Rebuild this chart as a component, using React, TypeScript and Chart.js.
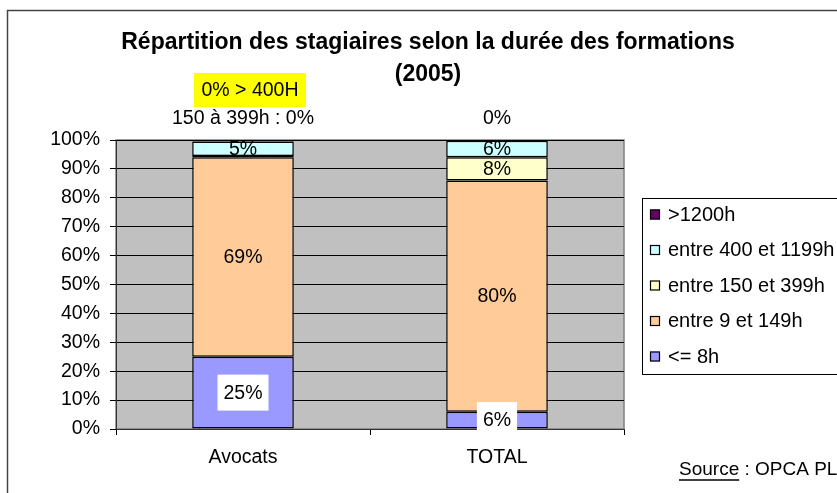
import React, { useEffect, useRef } from "react";
import { Chart, registerables } from "chart.js";

Chart.register(...registerables);

const categories = ["Avocats", "TOTAL"];
const seriesNames = ["<= 8h", "entre 9 et 149h", "entre 150 et 399h", "entre 400 et 1199h", ">1200h"];
const le8h = [25, 6];
const h9to149 = [69, 80];
const h150to399 = [0.5, 8];
const h400to1199 = [5, 5.7];
const gt1200 = [0.5, 0.3];
const seriesColors = ["#9999FF", "#FFCC99", "#FFFFCC", "#CCFFFF", "#660066"];
const whiteBgSeries = [0];
const titleLines = ["Répartition des stagiaires selon la durée des formations", "(2005)"];
const topNotes = ["150 à 399h : 0%", "0%"];
const highlightNote = "0% > 400H";
const sourceLabel = "Source";
const sourceRest = " : OPCA PL";

const FONT = "'Liberation Sans', Arial, sans-serif";

const decorPlugin = {
  id: "decor",
  beforeDraw(chart: any) {
    const ctx = chart.ctx;
    const { left, top, right, bottom } = chart.chartArea;
    ctx.save();
    ctx.fillStyle = "#ffffff";
    ctx.fillRect(0, 0, chart.width, chart.height);
    ctx.strokeStyle = "#444444";
    ctx.lineWidth = 1.5;
    ctx.strokeRect(7.5, 10.5, 900, 600);
    ctx.fillStyle = "#C0C0C0";
    ctx.fillRect(left, top, right - left, bottom - top);
    ctx.strokeStyle = "#808080";
    ctx.lineWidth = 1.5;
    ctx.strokeRect(left, top, right - left, bottom - top);
    ctx.restore();
  },
  afterDatasetsDraw(chart: any) {
    const ctx = chart.ctx;
    ctx.save();
    ctx.font = `19.5px ${FONT}`;
    ctx.textAlign = "center";
    ctx.textBaseline = "middle";
    chart.data.datasets.forEach((ds: any, di: number) => {
      const meta = chart.getDatasetMeta(di);
      meta.data.forEach((el: any, i: number) => {
        const v = ds.data[i];
        if (v < 1) return;
        const txt = Math.round(v) + "%";
        const cx = el.x;
        const cy = (el.y + el.base) / 2;
        if (whiteBgSeries.includes(di)) {
          const w = ctx.measureText(txt).width;
          ctx.fillStyle = "#ffffff";
          ctx.fillRect(cx - w / 2 - 6, cy - 18, w + 12, 36);
        }
        ctx.fillStyle = "#000000";
        ctx.fillText(txt, cx, cy + 1);
      });
    });
    ctx.restore();
  },
  afterDraw(chart: any) {
    const ctx = chart.ctx;
    const xs = chart.scales.x;
    ctx.save();
    // Title
    ctx.fillStyle = "#000";
    ctx.textAlign = "center";
    ctx.textBaseline = "middle";
    ctx.font = `bold 23px ${FONT}`;
    ctx.fillText(titleLines[0], 428, 43);
    ctx.fillText(titleLines[1], 428, 75);
    // Top notes
    ctx.font = `19.5px ${FONT}`;
    categories.forEach((_, i) => {
      ctx.fillText(topNotes[i], xs.getPixelForValue(i), 119);
    });
    // highlight note
    ctx.fillStyle = "#FFFF00";
    ctx.fillRect(194, 73, 112, 34);
    ctx.fillStyle = "#000";
    ctx.fillText(highlightNote, 250, 91);
    // Legend
    const lx = 642;
    const ly = 198;
    ctx.strokeStyle = "#000";
    ctx.lineWidth = 1;
    ctx.strokeRect(lx + 0.5, ly + 0.5, 300, 176);
    ctx.textAlign = "left";
    ctx.font = `20px ${FONT}`;
    for (let k = 0; k < seriesNames.length; k++) {
      const si = seriesNames.length - 1 - k;
      const yy = 214 + k * 35.5;
      ctx.fillStyle = seriesColors[si];
      ctx.fillRect(650, yy - 4.5, 10, 10);
      ctx.strokeStyle = "#000";
      ctx.lineWidth = 1.2;
      ctx.strokeRect(650.5, yy - 4, 9, 9);
      ctx.fillStyle = "#000";
      ctx.fillText(seriesNames[si], 668, yy + 1);
    }
    // Source
    ctx.font = `19px ${FONT}`;
    const sx = 679;
    const sy = 470;
    ctx.fillText(sourceLabel, sx, sy);
    const sw = ctx.measureText(sourceLabel).width;
    ctx.fillText(sourceRest, sx + sw, sy);
    ctx.strokeStyle = "#000";
    ctx.lineWidth = 1.5;
    ctx.beginPath();
    ctx.moveTo(sx, sy + 10);
    ctx.lineTo(sx + sw, sy + 10);
    ctx.stroke();
    ctx.restore();
  },
};

export default function App() {
  const ref = useRef<HTMLCanvasElement | null>(null);
  useEffect(() => {
    if (!ref.current) return;
    const series = [le8h, h9to149, h150to399, h400to1199, gt1200];
    const chart = new Chart(ref.current, {
      type: "bar",
      data: {
        labels: categories,
        datasets: series.map((d, i) => ({
          label: seriesNames[i],
          data: d,
          backgroundColor: seriesColors[i],
          borderColor: "#000000",
          borderWidth: 1.5,
          borderSkipped: false,
          barPercentage: 0.4,
          categoryPercentage: 1,
        })),
      },
      options: {
        responsive: false,
        animation: false,
        devicePixelRatio: 1,
        layout: { padding: { left: 0, top: 140, right: 213, bottom: 0 } },
        plugins: { legend: { display: false }, title: { display: false }, tooltip: { enabled: false } },
        scales: {
          x: {
            stacked: true,
            afterFit(s: any) { s.height = 64; },
            grid: { drawOnChartArea: false, drawTicks: true, tickLength: 6, color: "#000" },
            border: { display: true, color: "#333" },
            ticks: { color: "#000", font: { family: FONT, size: 19.5 }, padding: 11 },
          },
          y: {
            stacked: true,
            min: 0,
            max: 100,
            afterFit(s: any) { s.width = 116; },
            grid: { color: "#000", lineWidth: 1, drawTicks: true, tickLength: 6 },
            border: { display: true, color: "#333" },
            ticks: {
              stepSize: 10,
              color: "#000",
              font: { family: FONT, size: 19.5 },
              padding: 10,
              callback: (v: any) => v + "%",
            },
          },
        },
      },
      plugins: [decorPlugin],
    });
    return () => chart.destroy();
  }, []);
  return (
    <div style={{ position: "fixed", left: 0, top: 0, width: 837, height: 493 }}>
      <canvas ref={ref} width={837} height={493} style={{ display: "block", width: 837, height: 493 }} />
    </div>
  );
}
